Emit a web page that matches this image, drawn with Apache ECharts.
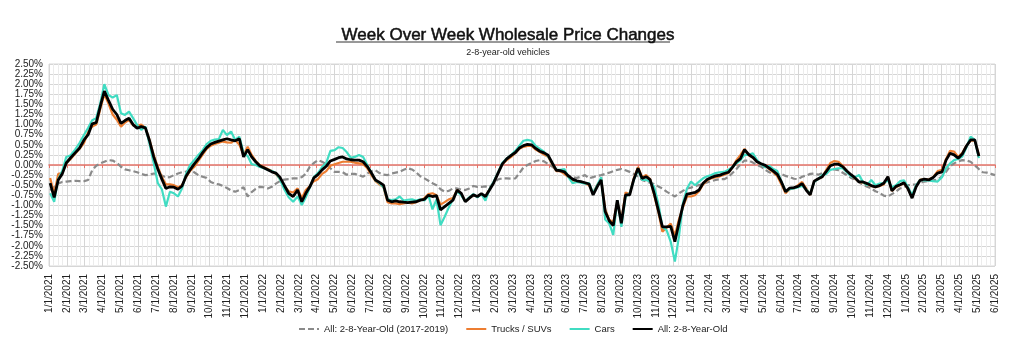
<!DOCTYPE html>
<html>
<head>
<meta charset="utf-8">
<title>Week Over Week Wholesale Price Changes</title>
<script src="https://cdn.jsdelivr.net/npm/echarts@6/dist/echarts.min.js"></script>
<style>
  html, body { margin: 0; padding: 0; background: #fff; }
  #chart { width: 1024px; height: 350px; }
</style>
</head>
<body>
<div id="chart"></div>
<script>
// weekly points, first one on 1/3/2021
var firstWeek = [2021, 0, 3];

// x axis: one label per month, 1/1/2021 .. 6/1/2025
var monthLabels = [];
for (var m = 0; m <= 53; m++) {
    monthLabels.push(((m % 12) + 1) + '/1/' + (2021 + Math.floor(m / 12)));
}

// All: 2-8-Year-Old (2017-2019)
var allHist = [
    -0.62,-0.55,-0.46,-0.42,-0.41,-0.40,-0.39,-0.40,-0.40,-0.37,
    -0.13,-0.02,0.04,0.08,0.12,0.11,0.05,-0.04,-0.11,-0.13,
    -0.15,-0.18,-0.22,-0.25,-0.24,-0.21,-0.22,-0.26,-0.31,-0.30,
    -0.25,-0.21,-0.18,-0.16,-0.13,-0.18,-0.25,-0.29,-0.32,-0.42,
    -0.46,-0.48,-0.52,-0.57,-0.63,-0.66,-0.62,-0.55,-0.78,-0.67,
    -0.59,-0.54,-0.55,-0.58,-0.54,-0.46,-0.40,-0.36,-0.35,-0.33,
    -0.33,-0.30,-0.22,-0.04,0.05,0.12,0.08,0.02,-0.08,-0.17,
    -0.17,-0.18,-0.24,-0.22,-0.22,-0.25,-0.29,-0.21,-0.15,-0.13,
    -0.20,-0.24,-0.25,-0.21,-0.19,-0.17,-0.12,-0.08,-0.11,-0.18,
    -0.28,-0.33,-0.39,-0.45,-0.50,-0.60,-0.66,-0.64,-0.58,-0.58,
    -0.61,-0.62,-0.58,-0.52,-0.54,-0.54,-0.53,-0.55,-0.45,-0.36,
    -0.33,-0.33,-0.34,-0.33,-0.20,-0.06,0.00,0.05,0.10,0.12,
    0.09,0.02,-0.04,-0.12,-0.16,-0.20,-0.26,-0.31,-0.32,-0.29,
    -0.25,-0.33,-0.30,-0.27,-0.25,-0.22,-0.19,-0.15,-0.12,-0.10,
    -0.13,-0.17,-0.22,-0.29,-0.37,-0.41,-0.44,-0.47,-0.53,-0.58,
    -0.66,-0.72,-0.78,-0.70,-0.64,-0.58,-0.56,-0.52,-0.50,-0.46,
    -0.43,-0.40,-0.37,-0.35,-0.35,-0.30,-0.20,-0.10,0.02,0.11,
    0.11,0.06,0.00,-0.04,-0.12,-0.18,-0.22,-0.24,-0.22,-0.27,
    -0.30,-0.34,-0.35,-0.29,-0.26,-0.22,-0.21,-0.24,-0.20,-0.17,
    -0.11,-0.11,-0.13,-0.19,-0.25,-0.32,-0.36,-0.43,-0.49,-0.54,
    -0.58,-0.65,-0.69,-0.76,-0.78,-0.72,-0.66,-0.58,-0.55,-0.50,
    -0.49,-0.48,-0.44,-0.41,-0.40,-0.38,-0.36,-0.28,-0.17,-0.03,
    0.04,0.09,0.12,0.11,0.08,-0.01,-0.10,-0.18,-0.19,-0.22,
    -0.25
];

// Trucks / SUVs
var trucks = [
    -0.32,-0.72,-0.22,-0.20,0.05,0.15,0.28,0.40,0.55,0.82,
    0.95,1.00,1.38,1.75,1.52,1.25,1.12,0.95,1.05,1.12,
    0.98,0.97,1.00,0.92,0.62,0.25,-0.05,-0.30,-0.48,-0.48,
    -0.50,-0.55,-0.50,-0.30,-0.15,-0.05,0.10,0.25,0.40,0.48,
    0.52,0.55,0.58,0.56,0.55,0.62,0.50,0.25,0.45,0.25,
    0.10,0.00,-0.05,-0.10,-0.15,-0.22,-0.35,-0.52,-0.65,-0.68,
    -0.58,-0.82,-0.62,-0.52,-0.40,-0.35,-0.22,-0.15,-0.02,0.02,
    0.05,0.08,0.08,0.08,0.06,0.04,0.02,-0.08,-0.25,-0.40,
    -0.48,-0.55,-0.92,-0.95,-0.95,-0.97,-0.95,-0.93,-0.95,-0.92,
    -0.87,-0.82,-0.72,-0.70,-0.75,-0.98,-0.92,-0.85,-0.82,-0.62,
    -0.72,-0.90,-0.82,-0.75,-0.78,-0.72,-0.78,-0.60,-0.45,-0.20,
    0.02,0.12,0.20,0.30,0.40,0.45,0.47,0.47,0.38,0.32,
    0.26,0.20,0.02,-0.15,-0.15,-0.22,-0.30,-0.38,-0.40,-0.42,
    -0.45,-0.50,-0.70,-0.50,-0.35,-1.10,-1.35,-1.42,-0.90,-1.38,
    -0.68,-0.72,-0.32,-0.05,-0.30,-0.25,-0.35,-0.75,-1.15,-1.65,
    -1.55,-1.45,-1.75,-1.35,-1.05,-0.78,-0.78,-0.75,-0.65,-0.48,
    -0.38,-0.33,-0.30,-0.28,-0.24,-0.20,-0.05,0.12,0.25,0.40,
    0.24,0.18,0.08,0.02,-0.02,-0.10,-0.18,-0.28,-0.48,-0.70,
    -0.60,-0.58,-0.50,-0.42,-0.58,-0.74,-0.40,-0.35,-0.30,-0.12,
    0.05,0.10,0.08,-0.02,-0.15,-0.25,-0.33,-0.42,-0.44,-0.48,
    -0.52,-0.55,-0.52,-0.48,-0.30,-0.64,-0.55,-0.50,-0.45,-0.60,
    -0.80,-0.52,-0.36,-0.35,-0.36,-0.30,-0.15,-0.12,0.15,0.35,
    0.33,0.20,0.30,0.48,0.60,0.60,0.25
];

// Cars
var cars = [
    -0.70,-0.91,-0.35,-0.15,0.20,0.24,0.38,0.55,0.75,0.92,
    1.11,1.16,1.53,2.00,1.73,1.67,1.73,1.28,1.24,1.32,
    1.16,0.99,0.87,0.95,0.52,0.05,-0.45,-0.60,-1.03,-0.66,
    -0.70,-0.78,-0.58,-0.22,0.00,0.12,0.25,0.36,0.52,0.60,
    0.63,0.64,0.87,0.74,0.83,0.62,0.70,0.30,0.22,0.02,
    0.00,-0.05,-0.08,-0.12,-0.15,-0.20,-0.35,-0.60,-0.80,-0.91,
    -0.78,-0.99,-0.80,-0.55,-0.30,-0.20,-0.05,0.05,0.35,0.37,
    0.44,0.42,0.32,0.18,0.20,0.25,0.20,0.00,-0.20,-0.38,
    -0.45,-0.55,-0.85,-0.87,-0.85,-0.78,-0.88,-0.86,-0.85,-0.88,
    -0.85,-0.88,-0.75,-1.10,-0.85,-1.49,-1.28,-1.05,-0.85,-0.65,
    -0.75,-0.90,-0.80,-0.72,-0.80,-0.72,-0.88,-0.60,-0.42,-0.20,
    0.05,0.16,0.25,0.35,0.48,0.60,0.62,0.60,0.47,0.40,
    0.33,0.21,0.05,-0.12,-0.12,-0.10,-0.30,-0.45,-0.42,-0.44,
    -0.46,-0.45,-0.70,-0.50,-0.30,-1.35,-1.45,-1.73,-0.87,-1.53,
    -0.78,-0.70,-0.37,-0.12,-0.37,-0.37,-0.41,-0.54,-0.95,-1.53,
    -1.61,-1.90,-2.39,-1.78,-0.95,-0.58,-0.41,-0.50,-0.41,-0.33,
    -0.28,-0.25,-0.20,-0.18,-0.17,-0.12,-0.05,0.04,0.12,0.25,
    0.25,0.29,0.12,0.02,-0.06,-0.02,-0.10,-0.15,-0.41,-0.66,
    -0.60,-0.58,-0.55,-0.52,-0.60,-0.72,-0.42,-0.35,-0.25,-0.22,
    -0.12,-0.10,-0.08,-0.08,-0.18,-0.28,-0.30,-0.25,-0.43,-0.50,
    -0.37,-0.50,-0.46,-0.45,-0.38,-0.55,-0.50,-0.40,-0.38,-0.55,
    -0.74,-0.50,-0.37,-0.38,-0.38,-0.40,-0.41,-0.30,-0.08,0.04,
    0.12,0.15,0.21,0.44,0.70,0.62,0.17
];

// All: 2-8-Year-Old
var allNow = [
    -0.45,-0.80,-0.37,-0.22,0.05,0.18,0.30,0.42,0.62,0.75,
    1.02,1.05,1.45,1.83,1.60,1.38,1.25,1.03,1.10,1.16,
    1.00,0.91,0.95,0.92,0.60,0.20,-0.10,-0.35,-0.58,-0.54,
    -0.55,-0.60,-0.52,-0.28,-0.12,0.02,0.15,0.30,0.43,0.52,
    0.56,0.59,0.62,0.65,0.62,0.60,0.65,0.20,0.38,0.20,
    0.08,-0.02,-0.07,-0.12,-0.17,-0.20,-0.30,-0.50,-0.70,-0.78,
    -0.62,-0.91,-0.70,-0.54,-0.32,-0.24,-0.12,-0.03,0.10,0.14,
    0.18,0.20,0.15,0.13,0.12,0.12,0.08,-0.04,-0.20,-0.37,
    -0.43,-0.50,-0.87,-0.91,-0.89,-0.91,-0.92,-0.93,-0.92,-0.91,
    -0.87,-0.85,-0.75,-0.78,-0.76,-1.11,-1.03,-0.95,-0.87,-0.62,
    -0.70,-0.91,-0.82,-0.74,-0.78,-0.71,-0.78,-0.62,-0.45,-0.22,
    0.02,0.15,0.24,0.31,0.42,0.48,0.51,0.50,0.41,0.34,
    0.30,0.24,0.05,-0.13,-0.14,-0.17,-0.27,-0.35,-0.39,-0.41,
    -0.44,-0.47,-0.74,-0.54,-0.37,-1.15,-1.38,-1.50,-0.87,-1.44,
    -0.74,-0.74,-0.35,-0.08,-0.33,-0.29,-0.36,-0.70,-1.11,-1.53,
    -1.53,-1.52,-1.90,-1.44,-1.00,-0.72,-0.70,-0.68,-0.62,-0.45,
    -0.36,-0.31,-0.27,-0.25,-0.21,-0.18,-0.06,0.08,0.16,0.38,
    0.26,0.19,0.08,0.03,-0.01,-0.08,-0.15,-0.23,-0.42,-0.66,
    -0.57,-0.56,-0.53,-0.46,-0.62,-0.74,-0.40,-0.34,-0.29,-0.16,
    -0.02,0.02,0.02,-0.04,-0.15,-0.24,-0.32,-0.42,-0.42,-0.46,
    -0.51,-0.54,-0.51,-0.45,-0.29,-0.64,-0.53,-0.49,-0.44,-0.59,
    -0.82,-0.54,-0.38,-0.35,-0.37,-0.31,-0.20,-0.17,0.12,0.29,
    0.25,0.17,0.27,0.47,0.62,0.62,0.22
];

// week i -> position in months since 1/1/2021
function weekX(i) {
    var d = new Date(firstWeek[0], firstWeek[1], firstWeek[2] + 7 * i);
    var days = new Date(d.getFullYear(), d.getMonth() + 1, 0).getDate();
    return (d.getFullYear() - 2021) * 12 + d.getMonth() + (d.getDate() - 1) / days;
}
function toPairs(arr) {
    return arr.map(function (v, i) { return [weekX(i), v]; });
}

var font = 'Liberation Sans, Arial, sans-serif';
var chart = echarts.init(document.getElementById('chart'));

chart.setOption({
    animation: false,
    textStyle: { fontFamily: font },
    title: [
        {
            text: 'Week Over Week Wholesale Price Changes',
            left: 503, top: 22, textAlign: 'center',
            textStyle: {
                fontFamily: font, fontSize: 17, fontWeight: 'normal', color: '#111',
                textBorderColor: '#111', textBorderWidth: 0.5
            }
        },
        {
            text: '2-8-year-old vehicles',
            left: 503, top: 43, textAlign: 'center',
            textStyle: { fontFamily: font, fontSize: 9, fontWeight: 'normal', color: '#222' }
        }
    ],
    // underline of the title
    graphic: [{
        type: 'line',
        shape: { x1: 336, y1: 42, x2: 670, y2: 42 },
        style: { stroke: '#333', lineWidth: 1 }
    }],
    legend: {
        bottom: 11, left: 293,
        itemWidth: 20, itemHeight: 8, itemGap: 17,
        itemStyle: { opacity: 0 },
        textStyle: { fontFamily: font, fontSize: 9.5, color: '#222' },
        data: ['All: 2-8-Year-Old (2017-2019)', 'Trucks / SUVs', 'Cars', 'All: 2-8-Year-Old']
    },
    grid: {
        left: 49, right: 29, top: 64, bottom: 84,
        show: true, borderColor: '#d9d9d9', borderWidth: 1
    },
    xAxis: [
        {
            type: 'value', min: 0, max: 53, interval: 1,
            axisLine: { show: false, onZero: false },
            axisTick: { show: false },
            axisLabel: {
                rotate: 90, fontSize: 10, color: '#222', margin: 8,
                formatter: function (v) { return monthLabels[v]; }
            },
            splitLine: { show: true, lineStyle: { color: '#d6d6d6', width: 1 } },
            minorTick: { show: false, splitNumber: 4 },
            minorSplitLine: { show: true, lineStyle: { color: '#ececec', width: 1 } }
        },
        {
            // red zero line with month ticks
            type: 'value', min: 0, max: 53, interval: 1, position: 'bottom',
            axisLine: { show: true, onZero: true, lineStyle: { color: '#e57368', width: 1.5 } },
            axisTick: { show: true, length: 3, lineStyle: { color: '#e57368' } },
            axisLabel: { show: false },
            splitLine: { show: false }
        }
    ],
    yAxis: {
        type: 'value', min: -2.5, max: 2.5, interval: 0.25,
        axisLine: { show: false, onZero: false },
        axisTick: { show: false },
        axisLabel: {
            fontSize: 10, color: '#222', margin: 6,
            formatter: function (v) { return v.toFixed(2) + '%'; }
        },
        splitLine: { show: true, lineStyle: { color: '#d6d6d6', width: 1 } }
    },
    series: [
        {
            name: 'All: 2-8-Year-Old (2017-2019)', type: 'line', symbol: 'none',
            data: toPairs(allHist),
            lineStyle: { color: '#8a8a8a', width: 2.2, type: [6, 3] },
            itemStyle: { color: '#8a8a8a' }
        },
        {
            name: 'Trucks / SUVs', type: 'line', symbol: 'none',
            data: toPairs(trucks),
            lineStyle: { color: '#ed7d31', width: 2.2 },
            itemStyle: { color: '#ed7d31' }
        },
        {
            name: 'Cars', type: 'line', symbol: 'none',
            data: toPairs(cars),
            lineStyle: { color: '#40dcc2', width: 2.2 },
            itemStyle: { color: '#40dcc2' }
        },
        {
            name: 'All: 2-8-Year-Old', type: 'line', symbol: 'none',
            data: toPairs(allNow),
            lineStyle: { color: '#000000', width: 2.8 },
            itemStyle: { color: '#000000' }
        }
    ]
});
</script>
</body>
</html>
